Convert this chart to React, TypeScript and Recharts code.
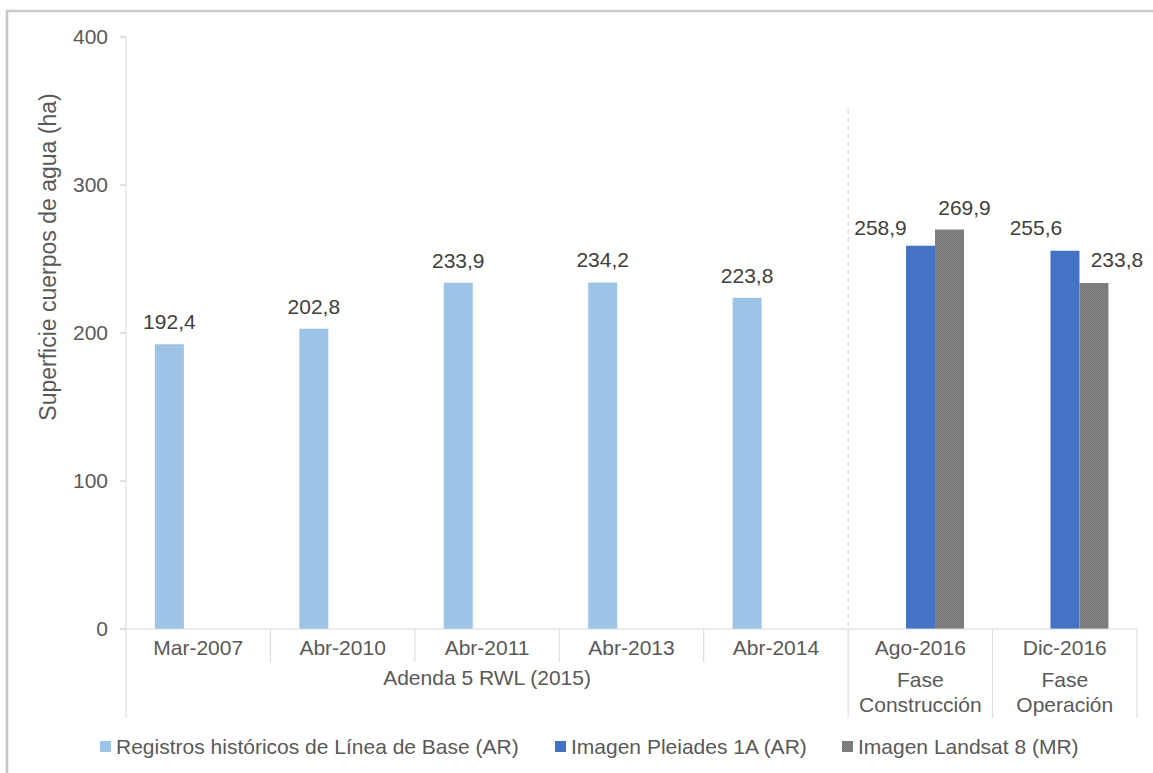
import React from 'react';
import { BarChart, Bar, XAxis, YAxis, LabelList, Customized } from 'recharts';

const categories = ['Mar-2007', 'Abr-2010', 'Abr-2011', 'Abr-2013', 'Abr-2014', 'Ago-2016', 'Dic-2016'];
const phaseLabels = [[], [], [], [], [], ['Fase', 'Construcción'], ['Fase', 'Operación']];
const groupLabel = 'Adenda 5 RWL (2015)';
const historicos = [192.4, 202.8, 233.9, 234.2, 223.8, null, null];
const pleiades = [null, null, null, null, null, 258.9, 255.6];
const landsat = [null, null, null, null, null, 269.9, 233.8];
const yTicks = [0, 100, 200, 300, 400];
const seriesNames = ['Registros históricos de Línea de Base (AR)', 'Imagen Pleiades 1A (AR)', 'Imagen Landsat 8 (MR)'];
const yLabel = 'Superficie cuerpos de agua (ha)';

const data = categories.map((name, i) => ({
  name,
  historicos: historicos[i],
  pleiades: pleiades[i],
  landsat: landsat[i],
}));

const W = 1153;
const H = 773;
const PLOT_LEFT = 126;
const PLOT_RIGHT = 1137;
const PLOT_TOP = 37;
const PLOT_BOTTOM = 629;
const STEP = (PLOT_RIGHT - PLOT_LEFT) / categories.length;
const LINE = '#d9d9d9';
const TEXT = '#595959';
const FONT = "'Liberation Sans', Arial, sans-serif";

const fmt = (v: number) => v.toFixed(1).replace('.', ',');

// label nudges per category, like the hand-moved labels in the original
const makeLabel = (dx: Record<number, number>, dy: Record<number, number>) => (props: any) => {
  const vb = props.viewBox ?? props;
  const { value } = props;
  if (value == null || vb.width == null) return null;
  const cat = Math.floor((vb.x + vb.width / 2 - PLOT_LEFT) / STEP);
  const cx = vb.x + vb.width / 2 + (dx[cat] ?? 0);
  return (
    <text x={cx} y={vb.y - (dy[cat] ?? 15)} textAnchor="middle" fontSize={21} fill="#404040" fontFamily={FONT}>
      {fmt(value)}
    </text>
  );
};

const XTick = (props: any) => {
  const { x, index, payload } = props;
  const left = x - STEP / 2;
  const longSep = index === 0 || index >= 5;
  const lines = phaseLabels[index] || [];
  return (
    <g>
      <line x1={left} y1={PLOT_BOTTOM} x2={left} y2={longSep ? 718 : 662} stroke={LINE} />
      {index === 5 && (
        <line x1={left} y1={109} x2={left} y2={PLOT_BOTTOM} stroke="#cfcfcf" strokeDasharray="5 3" />
      )}
      {index === categories.length - 1 && (
        <line x1={x + STEP / 2} y1={PLOT_BOTTOM} x2={x + STEP / 2} y2={718} stroke={LINE} />
      )}
      <text x={x} y={655} textAnchor="middle" fontSize={21} fill={TEXT} fontFamily={FONT}>
        {payload.value}
      </text>
      {lines.map((t: string, i: number) => (
        <text key={t} x={x} y={687 + i * 25} textAnchor="middle" fontSize={21} fill={TEXT} fontFamily={FONT}>
          {t}
        </text>
      ))}
      {index === 2 && (
        <text x={x} y={685} textAnchor="middle" fontSize={21} fill={TEXT} fontFamily={FONT}>
          {groupLabel}
        </text>
      )}
    </g>
  );
};

const fills = ['#9dc3e6', '#4472c4', 'url(#grayTex)'];
const legendX = [100, 555, 842];

const Decor = () => (
  <g>
    <rect x={7} y={11} width={W + 20} height={H + 20} fill="none" stroke="#c8c8c8" strokeWidth={2.5} />
    <text
      x={48}
      y={257}
      transform="rotate(-90 48 257)"
      textAnchor="middle"
      dominantBaseline="central"
      fontSize={23}
      fill={TEXT}
      fontFamily={FONT}
    >
      {yLabel}
    </text>
    {seriesNames.map((n, i) => (
      <g key={n}>
        <rect x={legendX[i]} y={741} width={11} height={11} fill={fills[i]} />
        <text x={legendX[i] + 16} y={754} fontSize={21} fill={TEXT} fontFamily={FONT}>
          {n}
        </text>
      </g>
    ))}
  </g>
);

export default function App() {
  return (
    <div style={{ position: 'absolute', left: 0, top: 0, width: W, height: H, background: '#fff', fontFamily: FONT }}>
      <BarChart
        width={W}
        height={H}
        data={data}
        margin={{ top: PLOT_TOP, right: W - PLOT_RIGHT, left: PLOT_LEFT - 60, bottom: H - PLOT_BOTTOM - 60 }}
        barCategoryGap="20%"
        barGap={0}
      >
        <defs>
          <pattern id="grayTex" width="2" height="2" patternUnits="userSpaceOnUse">
            <rect width="2" height="2" fill="#878787" />
            <rect width="1" height="1" fill="#737373" />
            <rect x="1" y="1" width="1" height="1" fill="#737373" />
          </pattern>
        </defs>
        <XAxis
          dataKey="name"
          height={60}
          interval={0}
          tickLine={false}
          axisLine={{ stroke: LINE }}
          tick={<XTick />}
        />
        <YAxis
          width={60}
          domain={[0, 400]}
          ticks={yTicks}
          tickSize={6}
          tickMargin={12}
          tickLine={{ stroke: '#bfbfbf' }}
          axisLine={{ stroke: LINE }}
          tick={{ fontSize: 21, fill: TEXT, fontFamily: FONT }}
        />
        <Bar dataKey="historicos" fill={fills[0]} isAnimationActive={false}>
          <LabelList dataKey="historicos" content={makeLabel({}, {})} />
        </Bar>
        <Bar dataKey="pleiades" fill={fills[1]} isAnimationActive={false}>
          <LabelList dataKey="pleiades" content={makeLabel({ 5: -40, 6: -29 }, { 5: 11, 6: 16 })} />
        </Bar>
        <Bar dataKey="landsat" fill={fills[2]} isAnimationActive={false}>
          <LabelList dataKey="landsat" content={makeLabel({ 5: 15, 6: 23 }, { 5: 15, 6: 16 })} />
        </Bar>
        <Customized component={Decor} />
      </BarChart>
    </div>
  );
}
